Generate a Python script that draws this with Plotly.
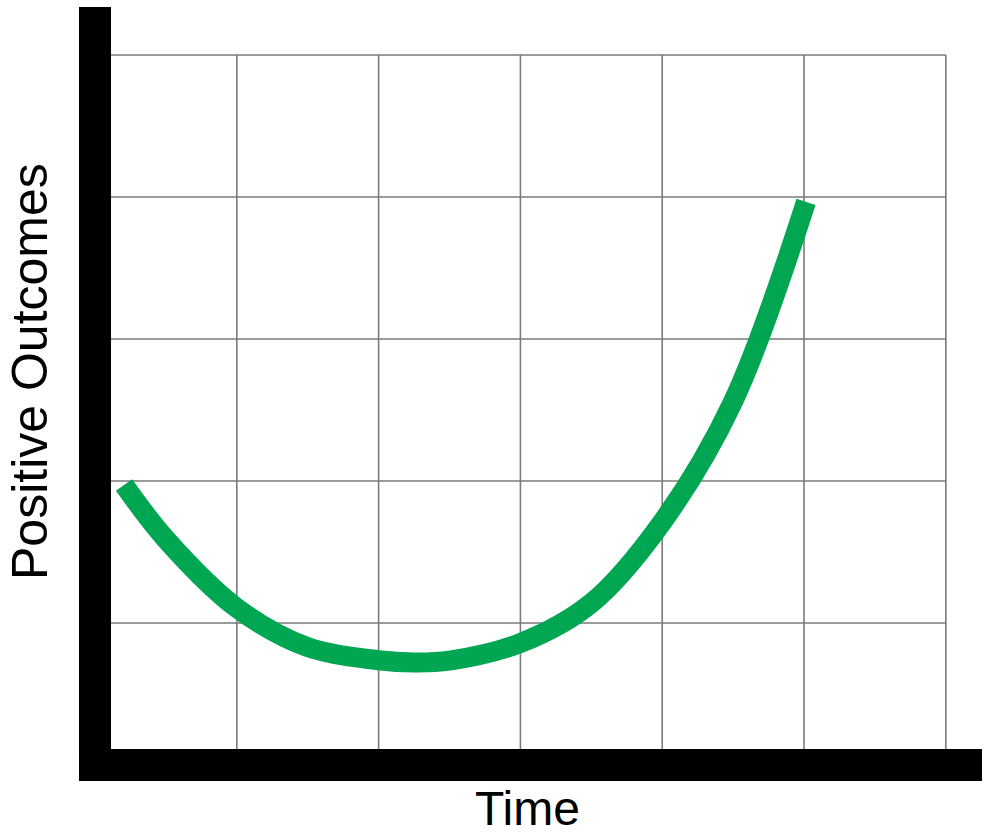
import plotly.graph_objects as go

# Curve of positive outcomes over time (grid units)
time_vals = [0.205, 0.5, 1.0, 1.5, 2.0, 2.25, 2.5, 3.0, 3.5, 4.0, 4.5, 5.014]
outcome_vals = [1.972, 1.59, 1.106, 0.83, 0.738, 0.722, 0.735, 0.859, 1.14, 1.711, 2.56, 3.965]

# Grid positions
x_grid = [0, 1, 2, 3, 4, 5, 6]
y_grid = [0, 1, 2, 3, 4, 5]

W, H = 982, 839
x_range = [-0.670, 6.255]
y_range = [-0.521, 5.387]

px_x = (x_range[1] - x_range[0]) / W   # data units per pixel, horizontal
px_y = (y_range[1] - y_range[0]) / H   # data units per pixel, vertical
bar = 16  # half thickness of the black axis bars, in pixels

grid_color = "#7a7a7a"
shapes = []
for gx in x_grid[1:]:
    shapes.append(dict(type="line", xref="x", yref="y", x0=gx, x1=gx,
                       y0=y_grid[0], y1=y_grid[-1], layer="below",
                       line=dict(color=grid_color, width=1.6)))
for gy in y_grid[1:]:
    shapes.append(dict(type="line", xref="x", yref="y", x0=x_grid[0], x1=x_grid[-1],
                       y0=gy, y1=gy, layer="below",
                       line=dict(color=grid_color, width=1.6)))

# Thick black axes
shapes.append(dict(type="rect", xref="x", yref="y",
                   x0=x_grid[0] - bar * px_x, x1=x_grid[0] + bar * px_x,
                   y0=y_grid[0] - bar * px_y, y1=y_range[1] - 7 * px_y,
                   fillcolor="black", line=dict(width=0), layer="below"))
shapes.append(dict(type="rect", xref="x", yref="y",
                   x0=x_grid[0] - bar * px_x, x1=x_range[1] + 0.05,
                   y0=y_grid[0] - bar * px_y, y1=y_grid[0] + bar * px_y,
                   fillcolor="black", line=dict(width=0), layer="below"))

fig = go.Figure()
fig.add_trace(go.Scatter(
    x=time_vals, y=outcome_vals, mode="lines",
    line=dict(color="#00a651", width=20, shape="spline", smoothing=1.0),
    hoverinfo="skip", showlegend=False,
))

font = dict(family="Liberation Sans, Arial, Helvetica, sans-serif", size=48, color="black")
annotations = [
    dict(text="Time", xref="paper", yref="paper", x=527 / W, y=1 - 808 / H,
         xanchor="center", yanchor="middle", showarrow=False, font=font),
    dict(text="Positive Outcomes", xref="paper", yref="paper", x=30 / W, y=1 - 372 / H,
         xanchor="center", yanchor="middle", textangle=-90, showarrow=False,
         font=dict(font, size=50)),
]

fig.update_layout(
    width=W, height=H,
    margin=dict(l=0, r=0, t=0, b=0),
    paper_bgcolor="white", plot_bgcolor="white",
    xaxis=dict(range=x_range, visible=False, fixedrange=True),
    yaxis=dict(range=y_range, visible=False, fixedrange=True),
    shapes=shapes, annotations=annotations,
)

fig.write_html("out.html", config={"displayModeBar": False})
